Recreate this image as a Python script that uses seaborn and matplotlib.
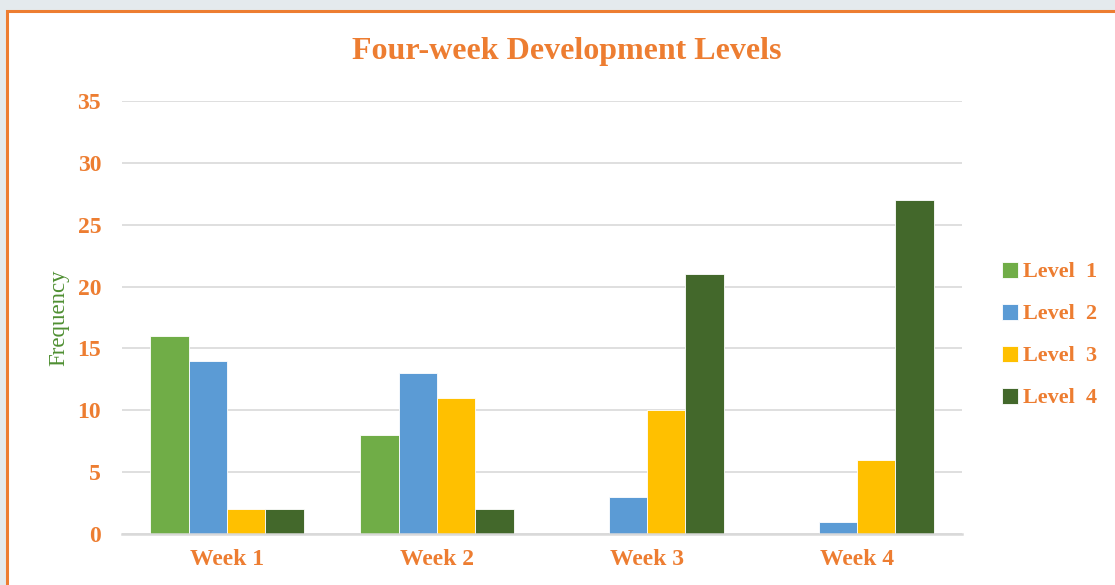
import pandas as pd
import matplotlib.pyplot as plt
import matplotlib.patches as mpatches
import seaborn as sns

# chart data
weeks = ['Week 1', 'Week 2', 'Week 3', 'Week 4']
levels = ['Level  1', 'Level  2', 'Level  3', 'Level  4']
level1 = [16, 8, 0, 0]
level2 = [14, 13, 3, 1]
level3 = [2, 11, 10, 6]
level4 = [2, 2, 21, 27]
yticks = [0, 5, 10, 15, 20, 25, 30, 35]

rows = []
for lvl, vals in zip(levels, [level1, level2, level3, level4]):
    for w, v in zip(weeks, vals):
        rows.append({'Week': w, 'Level': lvl, 'Frequency': v})
df = pd.DataFrame(rows)

sns.set_style('white')
plt.rcParams['font.family'] = ['Liberation Serif', 'DejaVu Serif']

orange = '#ED7D31'
palette = ['#70AD47', '#5B9BD5', '#FFC000', '#43682B']

fig = plt.figure(figsize=(11.15, 5.85), dpi=100)
fig.patch.set_facecolor('#e4eaed')
# white chart area with orange frame
frame = mpatches.Rectangle((7 / 1115, -0.1), 1.2, 1 - 11 / 585 + 0.1,
                           transform=fig.transFigure, facecolor='white',
                           edgecolor=orange, linewidth=2.2, zorder=-5)
fig.patches.append(frame)

ax = fig.add_axes([122 / 1115, 1 - 534 / 585, 840 / 1115, 433 / 585])
ax.set_facecolor('white')
sns.barplot(data=df, x='Week', y='Frequency', hue='Level', hue_order=levels,
            palette=palette, width=0.73, edgecolor='white', linewidth=0.6,
            saturation=1, ax=ax)

ax.set_ylim(0, 35)
ax.set_yticks(yticks)
ax.grid(axis='y', color='#d9d9d9', linewidth=1.2)
ax.set_axisbelow(True)
for s in ['top', 'right', 'left']:
    ax.spines[s].set_visible(False)
ax.spines['bottom'].set_color('#d9d9d9')
ax.spines['bottom'].set_linewidth(1.8)
ax.tick_params(axis='both', length=0, labelsize=17, labelcolor=orange)
ax.tick_params(axis='y', pad=15)
ax.tick_params(axis='x', pad=11)
for lab in ax.get_xticklabels() + ax.get_yticklabels():
    lab.set_fontweight('bold')
ax.set_xlabel('')
ax.set_ylabel('Frequency', fontsize=16.5, color='#4f8f32', labelpad=6)

fig.text(567 / 1115, 1 - 52 / 585, 'Four-week Development Levels',
         ha='center', va='center', fontsize=23, fontweight='bold', color=orange)

leg = ax.legend(loc='center left', bbox_to_anchor=(986 / 1115, 1 - 335 / 585),
                bbox_transform=fig.transFigure, frameon=False,
                prop={'size': 16, 'weight': 'bold'}, handlelength=0.75,
                handleheight=0.75, handletextpad=0.2, labelspacing=0.95,
                borderpad=0.2)
for t in leg.get_texts():
    t.set_color(orange)

plt.savefig('out.png', dpi=100, facecolor=fig.get_facecolor())
